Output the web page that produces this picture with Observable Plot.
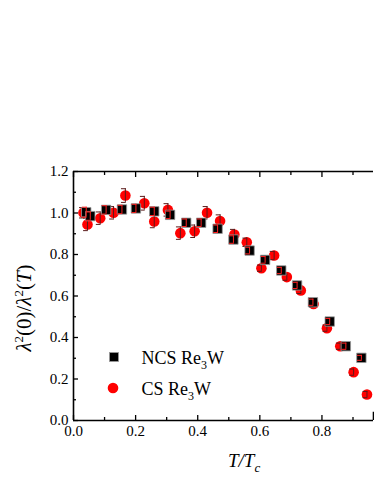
<!DOCTYPE html>
<html><head><meta charset="utf-8">
<script src="https://cdn.jsdelivr.net/npm/d3@7"></script>
<script src="https://cdn.jsdelivr.net/npm/@observablehq/plot@0.6"></script>
<style>body{margin:0;background:#fff}</style>
</head><body><div id="chart"></div>
<script>
// NCS Re3W (black squares)
const ncsT   = [0.041, 0.054, 0.105, 0.156, 0.201, 0.260, 0.311, 0.363, 0.411, 0.464, 0.515, 0.567, 0.617, 0.669, 0.720, 0.771, 0.825, 0.877, 0.927];
const ncsVal = [1.004, 0.985, 1.015, 1.017, 1.022, 1.008, 0.991, 0.953, 0.953, 0.924, 0.872, 0.819, 0.774, 0.723, 0.651, 0.570, 0.477, 0.358, 0.302];
const ncsErr = [0.024, 0.02, 0.02, 0.02, 0.02, 0.02, 0.018, 0.018, 0.018, 0.018, 0.018, 0.016, 0.016, 0.015, 0.015, 0.015, 0.015, 0.015, 0.012];
// CS Re3W (red circles)
const csT   = [0.032, 0.045, 0.086, 0.129, 0.167, 0.228, 0.260, 0.304, 0.344, 0.390, 0.430, 0.472, 0.518, 0.558, 0.605, 0.646, 0.687, 0.732, 0.773, 0.816, 0.859, 0.902, 0.945];
const csVal = [1.001, 0.945, 0.975, 1.001, 1.084, 1.047, 0.959, 1.015, 0.903, 0.912, 1.001, 0.961, 0.896, 0.859, 0.734, 0.795, 0.691, 0.627, 0.562, 0.445, 0.358, 0.233, 0.125];
const csErr = [0.025, 0.03, 0.03, 0.03, 0.033, 0.033, 0.03, 0.03, 0.03, 0.03, 0.03, 0.03, 0.025, 0.02, 0.015, 0.02, 0.015, 0.015, 0.015, 0.015, 0.015, 0.015, 0.015];

const xMajor = [0, 0.2, 0.4, 0.6, 0.8];
const xMinor = [0.1, 0.3, 0.5, 0.7, 0.9];
const yMajor = [0, 0.2, 0.4, 0.6, 0.8, 1.0, 1.2];
const yMinor = [0.1, 0.3, 0.5, 0.7, 0.9, 1.1];
const xMax = 0.966;
const seriesNames = ["NCS Re", "CS Re"];

const ncs = ncsT.map((t, i) => ({t, v: ncsVal[i], e: ncsErr[i]}));
const cs = csT.map((t, i) => ({t, v: csVal[i], e: csErr[i]}));

const font = "Liberation Serif";
const capShape = {draw(ctx, l) { ctx.moveTo(0, -l / 2); ctx.lineTo(0, l / 2); }};
function errMarks(data, color) {
  return [
    Plot.ruleX(data, {x: "t", y1: d => d.v - d.e, y2: d => d.v + d.e, stroke: color, strokeWidth: 1}),
    Plot.vector(data, {x: "t", y: d => d.v + d.e, length: 4, rotate: 90, shape: capShape, anchor: "middle", stroke: color, strokeWidth: 1}),
    Plot.vector(data, {x: "t", y: d => d.v - d.e, length: 4, rotate: 90, shape: capShape, anchor: "middle", stroke: color, strokeWidth: 1})
  ];
}

const plot = Plot.plot({
  width: 374, height: 484,
  marginLeft: 73, marginRight: 1, marginTop: 171, marginBottom: 64,
  style: {fontFamily: font, fontSize: "15px", color: "black", background: "white"},
  x: {domain: [0, xMax], label: null},
  y: {domain: [0, 1.2], label: null},
  marks: [
    Plot.dot(cs, {x: "t", y: "v", r: 5.3, fill: "#ff0000", stroke: "none"}),
    ...errMarks(cs, "#5a1a1a"),
    Plot.dot(ncs, {x: "t", y: "v", symbol: "square", r: 5.3, fill: "#000", stroke: "#999", strokeWidth: 0.8}),
    ...errMarks(ncs, "#ff2020"),
    Plot.ruleY([0, 1.2], {stroke: "black", strokeWidth: 1.6}),
    Plot.ruleX([0], {stroke: "black", strokeWidth: 1.6}),
    Plot.ruleX([xMax], {y1: 0, y2: 0.04, stroke: "black", strokeWidth: 1.6}),
    Plot.axisX(xMajor, {anchor: "bottom", tickSize: -5, tickFormat: () => "", strokeWidth: 1.3}),
    Plot.axisX(xMinor, {anchor: "bottom", tickSize: -3, tickFormat: () => "", strokeWidth: 1.3}),
    Plot.axisX(xMajor, {anchor: "top", tickSize: -5, tickFormat: () => "", strokeWidth: 1.3}),
    Plot.axisX(xMinor, {anchor: "top", tickSize: -3, tickFormat: () => "", strokeWidth: 1.3}),
    Plot.axisY(yMajor, {anchor: "left", tickSize: -5, tickFormat: () => "", strokeWidth: 1.3}),
    Plot.axisY(yMinor, {anchor: "left", tickSize: -3, tickFormat: () => "", strokeWidth: 1.3}),
    Plot.axisX(xMajor, {anchor: "bottom", tickSize: 0, tickPadding: 5, tickFormat: d3.format(".1f"), fontSize: 15}),
    Plot.axisY(yMajor, {anchor: "left", tickSize: 0, tickPadding: 5, tickFormat: d3.format(".1f"), fontSize: 15})
  ]
});

const svg = d3.select(plot);
svg.attr("font-family", font);
const xt = svg.append("text").attr("x", 228).attr("y", 467).attr("text-anchor", "start")
  .attr("font-size", 19).attr("font-style", "italic").attr("fill", "black");
xt.append("tspan").text("T/T");
xt.append("tspan").attr("dy", 5).attr("font-size", 13).text("c");

const yt = svg.append("text").attr("transform", "translate(31,308) rotate(-90)")
  .attr("text-anchor", "middle").attr("font-size", 21).attr("fill", "black");
yt.append("tspan").attr("font-style", "italic").text("λ");
yt.append("tspan").attr("dy", -8).attr("font-size", 13).text("2");
yt.append("tspan").attr("dy", 8).text("(0)/");
yt.append("tspan").attr("font-style", "italic").text("λ");
yt.append("tspan").attr("dy", -8).attr("font-size", 13).text("2");
yt.append("tspan").attr("dy", 8).text("(");
yt.append("tspan").attr("font-style", "italic").text("T");
yt.append("tspan").text(")");

const legRows = [
  {y: 357, kind: "square", name: seriesNames[0]},
  {y: 388, kind: "circle", name: seriesNames[1]}
];
legRows.forEach(r => {
  if (r.kind === "square") {
    svg.append("rect").attr("x", 109.5).attr("y", r.y - 4.5).attr("width", 9).attr("height", 9)
      .attr("fill", "#000").attr("stroke", "#999").attr("stroke-width", 0.8);
  } else {
    svg.append("circle").attr("cx", 113).attr("cy", r.y).attr("r", 5.3).attr("fill", "#ff0000");
  }
  const t = svg.append("text").attr("x", 141.5).attr("y", r.y + 7).attr("text-anchor", "start")
    .attr("font-size", 18).attr("fill", "black");
  t.append("tspan").text(r.name);
  t.append("tspan").attr("dy", 5).attr("font-size", 12).text("3");
  t.append("tspan").attr("dy", -5).text("W");
});
svg.selectAll("text, tspan").attr("font-family", font).style("font-family", font);

document.getElementById("chart").appendChild(plot);
</script>
</body></html>
